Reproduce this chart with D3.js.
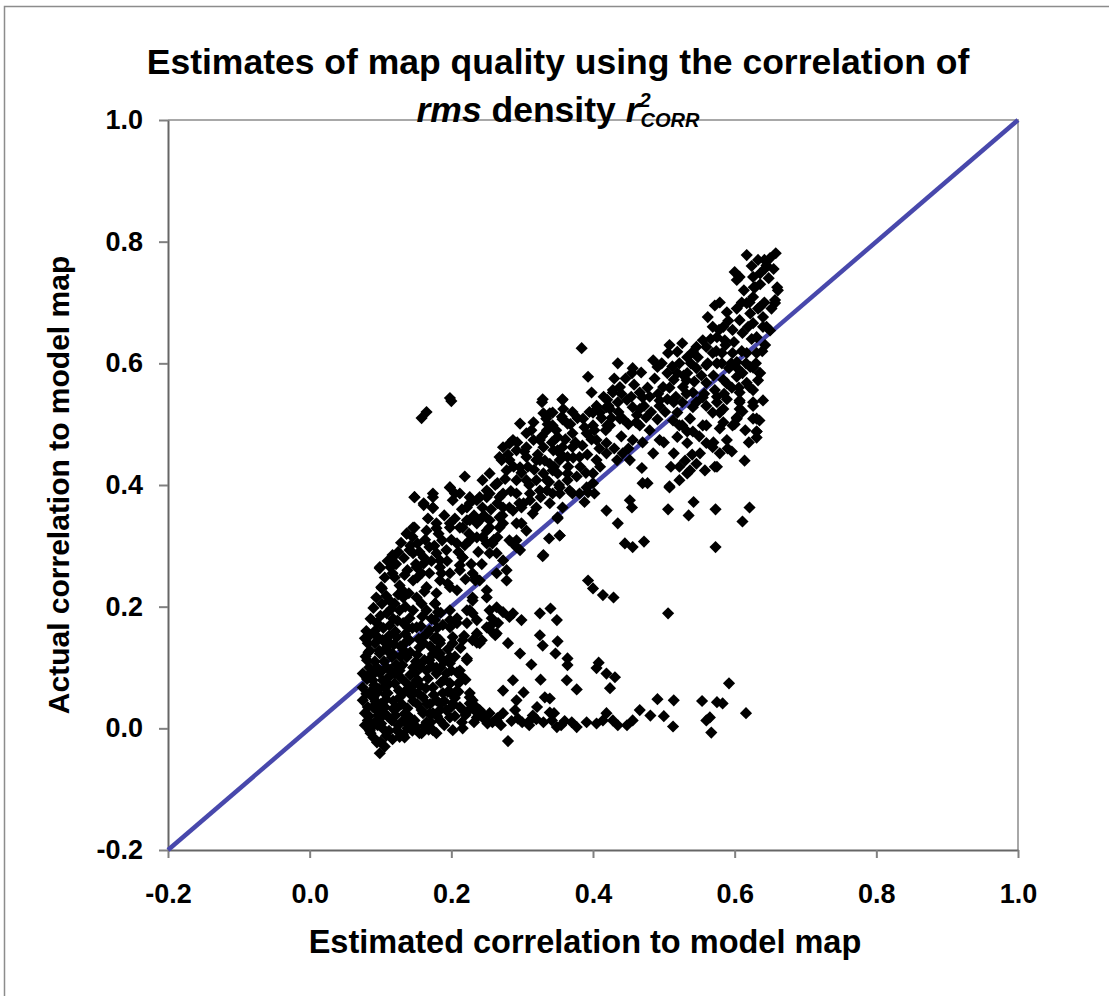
<!DOCTYPE html>
<html lang="en">
<meta charset="utf-8">
<style>
body {
  margin: 0;
  background: #fff;
  font-family: 'Liberation Sans', Arial, sans-serif;
}
.axis text {
  font-family: 'Liberation Sans', Arial, sans-serif;
  font-size: 27px;
  font-weight: bold;
  fill: #000;
}
.axis .tick line {
  stroke: #808080;
  stroke-width: 2px;
}
.axis .domain {
  stroke: #666;
  stroke-width: 2px;
}
</style>
<body>
<div id="chart"></div>

<script src="https://d3js.org/d3.v7.min.js"></script>
<script>

// tick values + labels (labels kept as plain hyphen minus like the original)
var xTicks = [-0.2, 0.0, 0.2, 0.4, 0.6, 0.8, 1.0];
var xTickLabels = ["-0.2", "0.0", "0.2", "0.4", "0.6", "0.8", "1.0"];
var yTicks = [-0.2, 0.0, 0.2, 0.4, 0.6, 0.8, 1.0];
var yTickLabels = ["-0.2", "0.0", "0.2", "0.4", "0.6", "0.8", "1.0"];

// identity line y = x
var diagonal = [[-0.2, -0.2], [1.0, 1.0]];

// [estimated, actual] pairs, read off the picture by region
var coreCluster = [
  [0.099,0.263],[0.117,0.255],[0.134,0.252],[0.151,0.265],[0.169,0.255],[0.184,0.265],[0.195,0.238],
  [0.179,0.222],[0.165,0.232],[0.146,0.243],[0.127,0.235],[0.102,0.230],[0.102,0.205],[0.113,0.210],
  [0.132,0.215],[0.151,0.215],[0.177,0.205],[0.165,0.194],[0.146,0.194],[0.127,0.194],[0.109,0.189],
  [0.095,0.173],[0.113,0.169],[0.132,0.173],[0.151,0.166],[0.169,0.161],[0.085,0.153],[0.085,0.128],
  [0.081,0.112],[0.075,0.090],[0.075,0.067],[0.075,0.046],[0.078,0.025],[0.078,0.005],[0.103,0.145],
  [0.123,0.150],[0.141,0.145],[0.155,0.133],[0.099,0.123],[0.117,0.123],[0.137,0.117],[0.095,0.100],
  [0.109,0.100],[0.127,0.095],[0.146,0.100],[0.165,0.095],[0.179,0.090],[0.089,0.079],[0.103,0.079],
  [0.120,0.074],[0.137,0.074],[0.151,0.079],[0.174,0.067],[0.095,0.058],[0.110,0.058],[0.127,0.051],
  [0.144,0.054],[0.160,0.051],[0.179,0.046],[0.089,0.035],[0.106,0.035],[0.123,0.033],[0.138,0.033],
  [0.158,0.030],[0.174,0.025],[0.099,0.016],[0.116,0.013],[0.132,0.013],[0.148,0.013],[0.165,0.010],
  [0.088,0.002],[0.103,0.000],[0.123,-0.003],[0.138,0.000],[0.155,-0.008],[0.095,-0.023],[0.099,-0.041],
  [0.132,-0.011],[0.082,0.140],[0.092,0.110],[0.086,0.060],[0.094,0.030],[0.084,0.020],[0.096,0.005],
  [0.108,-0.012],[0.112,0.085],[0.118,0.045],[0.122,0.105],[0.128,0.135],[0.134,0.060],[0.142,0.088],
  [0.138,0.022],[0.146,0.045],[0.150,0.110],[0.156,0.070],[0.104,0.165],[0.112,0.125],[0.100,0.185],
  [0.090,0.198],[0.118,0.180],[0.088,0.087],[0.098,0.092],[0.105,0.068],[0.115,0.015],[0.125,0.005],
  [0.082,0.035],[0.090,0.050],[0.100,0.040],[0.110,0.020],[0.130,0.040],[0.140,0.005],[0.105,0.110],
  [0.120,0.090],[0.135,0.155],[0.145,0.165],[0.160,0.150],[0.170,0.135],[0.160,0.025],[0.080,0.160],
  [0.092,0.140],[0.084,0.100],[0.098,0.065],[0.113,0.140],[0.128,0.118],[0.142,0.125],[0.118,0.032],
  [0.108,0.048],[0.094,0.012],[0.086,-0.008],[0.112,-0.004],[0.145,-0.004],[0.152,0.040],[0.166,0.040],
  [0.083,0.125],[0.087,0.092],[0.091,0.071],[0.093,0.044],[0.097,0.022],[0.101,0.008],[0.104,0.026],
  [0.107,0.056],[0.111,0.072],[0.114,0.096],[0.116,0.117],[0.119,0.138],[0.121,0.159],[0.124,0.177],
  [0.126,0.062],[0.129,0.083],[0.131,0.104],[0.133,0.128],[0.136,0.142],[0.139,0.165],[0.141,0.181],
  [0.143,0.064],[0.147,0.072],[0.149,0.091],[0.152,0.121],[0.154,0.147],[0.157,0.168],[0.159,0.184],
  [0.162,0.112],[0.164,0.066],[0.167,0.082],[0.169,0.024],[0.171,0.010],[0.173,0.102],[0.176,0.148],
  [0.078,0.148],[0.079,0.118],[0.081,0.081],[0.080,0.057],[0.082,0.013],[0.085,-0.004],[0.090,-0.015],
  [0.100,-0.022],[0.106,-0.030],[0.117,-0.018],[0.127,-0.014],[0.121,0.021],[0.134,0.024],[0.144,0.015],
  [0.150,0.003],[0.162,0.004],[0.168,-0.002],[0.092,0.160],[0.096,0.150],[0.098,0.128],[0.101,0.093],
  [0.108,0.132],[0.112,0.152],[0.115,0.196],[0.120,0.205],[0.125,0.220],[0.108,0.218],[0.094,0.215],
  [0.086,0.180],[0.135,0.200],[0.140,0.222],[0.158,0.205],[0.162,0.225],[0.172,0.180],[0.180,0.165],
  [0.185,0.190],[0.188,0.170],[0.174,0.122],[0.185,0.100],[0.190,0.080],[0.195,0.130],[0.205,0.118],
  [0.213,0.132],[0.218,0.152]
];

var upperBand = [
  [0.198,0.543],[0.200,0.538],[0.165,0.520],[0.158,0.510],[0.328,0.536],[0.357,0.540],[0.297,0.501],
  [0.316,0.503],[0.339,0.518],[0.356,0.512],[0.335,0.490],[0.350,0.479],[0.282,0.468],[0.316,0.474],
  [0.330,0.462],[0.344,0.457],[0.357,0.462],[0.292,0.457],[0.306,0.446],[0.271,0.441],[0.297,0.429],
  [0.320,0.441],[0.339,0.435],[0.353,0.441],[0.330,0.419],[0.350,0.419],[0.364,0.408],[0.320,0.408],
  [0.306,0.408],[0.292,0.408],[0.278,0.424],[0.254,0.419],[0.244,0.408],[0.265,0.403],[0.219,0.414],
  [0.198,0.396],[0.212,0.386],[0.226,0.380],[0.240,0.380],[0.254,0.386],[0.273,0.386],[0.292,0.386],
  [0.311,0.386],[0.335,0.391],[0.353,0.386],[0.339,0.370],[0.320,0.363],[0.302,0.370],[0.282,0.363],
  [0.265,0.370],[0.244,0.363],[0.226,0.370],[0.202,0.375],[0.174,0.380],[0.148,0.380],[0.161,0.370],
  [0.174,0.362],[0.179,0.337],[0.198,0.337],[0.212,0.330],[0.226,0.342],[0.240,0.342],[0.254,0.330],
  [0.273,0.337],[0.292,0.337],[0.306,0.325],[0.282,0.309],[0.265,0.314],[0.244,0.314],[0.226,0.309],
  [0.208,0.304],[0.187,0.309],[0.165,0.325],[0.148,0.330],[0.137,0.320],[0.152,0.304],[0.146,0.288],
  [0.161,0.281],[0.179,0.288],[0.117,0.285],[0.099,0.265],[0.216,0.281],[0.254,0.288],[0.292,0.298],
  [0.330,0.285],[0.353,0.317],[0.350,0.347],[0.357,0.363],[0.273,0.462],[0.282,0.441],[0.268,0.446],
  [0.306,0.485],[0.330,0.518],[0.364,0.501],[0.198,0.232],[0.208,0.227],[0.184,0.243],[0.230,0.215],
  [0.250,0.227],[0.234,0.243],[0.278,0.243],[0.278,0.260],[0.264,0.255],[0.273,0.276],[0.287,0.304],
  [0.297,0.293],[0.292,0.309],[0.299,0.337],[0.264,0.288],[0.258,0.304],[0.250,0.304],[0.236,0.314],
  [0.250,0.325],[0.219,0.301],[0.216,0.281],[0.212,0.260],[0.234,0.248],[0.198,0.255],[0.184,0.276],
  [0.193,0.293],[0.179,0.329],[0.198,0.330],[0.216,0.330],[0.222,0.363],[0.205,0.386],[0.198,0.396],
  [0.148,0.380],[0.161,0.367],[0.174,0.363],[0.174,0.386],[0.137,0.320],[0.146,0.330],[0.141,0.293],
  [0.117,0.281],[0.101,0.232],[0.120,0.248],[0.131,0.227],[0.152,0.248],[0.161,0.271],[0.169,0.298],
  [0.222,0.342],[0.236,0.337],[0.254,0.342],[0.268,0.347],[0.273,0.363],[0.287,0.358],[0.299,0.363],
  [0.311,0.375],[0.315,0.353],[0.325,0.391],[0.343,0.386],[0.367,0.391],[0.381,0.386],[0.400,0.403],
  [0.250,0.391],[0.268,0.380],[0.236,0.375],[0.212,0.268],[0.230,0.255],[0.240,0.243],[0.250,0.215],
  [0.230,0.210],[0.254,0.194],[0.259,0.173],[0.264,0.156],[0.236,0.156],[0.216,0.145],[0.198,0.194],
  [0.208,0.181],[0.222,0.173],[0.236,0.178],[0.226,0.194],[0.198,0.166],[0.184,0.145],[0.202,0.140],
  [0.184,0.123],[0.198,0.117],[0.169,0.112],[0.222,0.115],[0.236,0.141],[0.243,0.145],
  [0.106,0.248],[0.110,0.275],[0.114,0.265],[0.122,0.270],[0.125,0.290],[0.129,0.305],[0.133,0.280],
  [0.138,0.260],[0.142,0.300],[0.145,0.315],[0.150,0.270],[0.155,0.290],[0.158,0.255],[0.163,0.310],
  [0.167,0.345],[0.172,0.275],[0.176,0.300],[0.182,0.320],[0.186,0.255],[0.190,0.350],[0.194,0.275],
  [0.200,0.310],[0.205,0.345],[0.210,0.290],[0.215,0.360],[0.220,0.245],[0.225,0.320],[0.228,0.270],
  [0.232,0.350],[0.238,0.290],[0.243,0.270],[0.246,0.350],[0.250,0.380],[0.256,0.360],[0.260,0.310],
  [0.262,0.400],[0.268,0.330],[0.272,0.350],
  [0.276,0.410],[0.280,0.450],[0.284,0.390],[0.288,0.430],[0.293,0.470],[0.296,0.370],[0.299,0.420],
  [0.303,0.455],[0.308,0.430],[0.310,0.400],[0.313,0.490],[0.317,0.425],[0.322,0.450],[0.326,0.380],
  [0.328,0.480],[0.332,0.440],[0.336,0.500],[0.338,0.405],[0.342,0.470],[0.345,0.430],[0.348,0.490],
  [0.352,0.400],[0.355,0.450],[0.358,0.525],[0.361,0.475],[0.365,0.430],[0.368,0.500],[0.372,0.445],
  [0.375,0.470],[0.378,0.510],[0.382,0.430],[0.385,0.465],[0.388,0.495],[0.392,0.450],[0.395,0.520],
  [0.398,0.475],[0.402,0.490],[0.405,0.530],[0.409,0.460],[0.412,0.510],[0.415,0.545],[0.418,0.490]
];

var rightArm = [
  [0.658,0.781],[0.617,0.778],[0.633,0.770],[0.645,0.761],[0.600,0.750],[0.607,0.742],[0.603,0.737],
  [0.626,0.742],[0.636,0.748],[0.629,0.725],[0.660,0.725],[0.626,0.709],[0.657,0.699],[0.617,0.699],
  [0.636,0.693],[0.622,0.682],[0.640,0.676],[0.579,0.700],[0.572,0.695],[0.589,0.684],[0.562,0.676],
  [0.607,0.671],[0.626,0.666],[0.640,0.660],[0.584,0.660],[0.569,0.660],[0.597,0.655],[0.611,0.650],
  [0.575,0.643],[0.631,0.643],[0.586,0.638],[0.555,0.638],[0.560,0.627],[0.546,0.627],[0.526,0.633],
  [0.508,0.630],[0.506,0.617],[0.533,0.610],[0.541,0.619],[0.519,0.619],[0.569,0.617],[0.582,0.617],
  [0.597,0.617],[0.617,0.617],[0.631,0.617],[0.603,0.602],[0.622,0.594],[0.636,0.584],[0.611,0.584],
  [0.592,0.592],[0.575,0.600],[0.560,0.597],[0.546,0.592],[0.533,0.584],[0.519,0.584],[0.505,0.584],
  [0.491,0.594],[0.485,0.605],[0.435,0.600],[0.456,0.592],[0.455,0.584],[0.393,0.578],[0.398,0.552],
  [0.438,0.561],[0.428,0.552],[0.466,0.552],[0.480,0.545],[0.499,0.561],[0.514,0.573],[0.527,0.561],
  [0.541,0.552],[0.560,0.568],[0.572,0.556],[0.584,0.573],[0.603,0.578],[0.617,0.568],[0.626,0.556],
  [0.607,0.552],[0.589,0.541],[0.575,0.536],[0.607,0.536],[0.626,0.530],[0.631,0.509],[0.607,0.525],
  [0.603,0.511],[0.584,0.525],[0.569,0.519],[0.560,0.530],[0.546,0.536],[0.526,0.536],[0.537,0.509],
  [0.555,0.498],[0.579,0.493],[0.631,0.488],[0.533,0.488],[0.522,0.498],[0.514,0.536],[0.505,0.541],
  [0.494,0.530],[0.519,0.519],[0.466,0.525],[0.475,0.511],[0.461,0.503],[0.491,0.508],[0.448,0.540],
  [0.435,0.536],[0.420,0.540],[0.410,0.519],[0.424,0.525],[0.438,0.509],[0.420,0.498],[0.400,0.498],
  [0.386,0.509],[0.371,0.520],[0.357,0.541],[0.329,0.541],[0.343,0.519],[0.334,0.509],[0.357,0.508],
  [0.343,0.498],[0.400,0.519],[0.419,0.528],[0.428,0.556],[0.456,0.528],[0.470,0.544],[0.494,0.539],
  [0.532,0.572],[0.541,0.528],[0.513,0.506],[0.424,0.498],[0.442,0.509],[0.494,0.474],[0.466,0.498],
  [0.485,0.452],[0.456,0.474],[0.452,0.441],[0.469,0.428],[0.477,0.403],[0.442,0.452],[0.434,0.441],
  [0.419,0.452],[0.405,0.441],[0.400,0.419],[0.391,0.396],[0.419,0.469],[0.405,0.474],[0.391,0.485],
  [0.371,0.485],[0.371,0.462],[0.381,0.446],[0.364,0.446],[0.350,0.457],[0.343,0.424],[0.364,0.419],
  [0.377,0.414],[0.353,0.396],[0.371,0.386],[0.335,0.408],[0.325,0.441],[0.325,0.474],[0.306,0.462],
  [0.287,0.474],[0.508,0.396],[0.519,0.479],[0.514,0.452],[0.533,0.469],[0.526,0.498],[0.541,0.488],
  [0.560,0.498],[0.560,0.469],[0.551,0.452],[0.569,0.462],[0.579,0.452],[0.572,0.430],[0.546,0.435],
  [0.522,0.430],[0.533,0.419],[0.522,0.408],[0.537,0.424],[0.589,0.474],[0.597,0.498],[0.603,0.509],
  [0.626,0.509],[0.631,0.488],[0.611,0.521],[0.626,0.536],[0.607,0.539],[0.621,0.561],[0.635,0.584],
  [0.626,0.593],[0.603,0.593],[0.589,0.567],[0.575,0.545],[0.555,0.544],[0.579,0.519],[0.584,0.503],
  [0.631,0.478],[0.635,0.506],[0.640,0.539],[0.633,0.572],[0.643,0.630],[0.650,0.654],[0.657,0.704],
  [0.661,0.720],[0.643,0.756],[0.650,0.773],[0.614,0.440],[0.596,0.455],[0.575,0.430],[0.558,0.424],
  [0.384,0.625],
  [0.422,0.530],[0.426,0.510],[0.430,0.575],[0.436,0.520],[0.440,0.550],[0.446,0.575],[0.450,0.500],
  [0.454,0.545],[0.458,0.565],[0.462,0.515],[0.468,0.585],[0.472,0.530],[0.477,0.560],[0.482,0.520],
  [0.487,0.575],[0.492,0.550],[0.497,0.600],[0.502,0.520],[0.508,0.560],[0.512,0.595],[0.517,0.545],
  [0.522,0.600],[0.528,0.580],[0.532,0.550],[0.538,0.600],[0.543,0.570],[0.548,0.610],[0.553,0.580],
  [0.557,0.550],[0.562,0.600],[0.566,0.640],[0.570,0.580],[0.574,0.620],[0.578,0.655],[0.582,0.600],
  [0.587,0.630],[0.591,0.670],[0.595,0.600],[0.599,0.635],[0.603,0.690],[0.606,0.560],[0.610,0.620],
  [0.613,0.720],[0.616,0.600],[0.619,0.660],[0.621,0.700],[0.624,0.640],[0.627,0.725],[0.630,0.600],
  [0.633,0.690],[0.636,0.730],[0.639,0.620],[0.642,0.700],[0.645,0.660],[0.648,0.740],[0.652,0.690],
  [0.655,0.755],[0.642,0.770],[0.624,0.760],[0.610,0.700],[0.596,0.560],[0.585,0.550],[0.600,0.500],
  [0.615,0.490],[0.620,0.470],[0.590,0.460],[0.570,0.470],[0.550,0.480],[0.540,0.450],[0.530,0.440],
  [0.510,0.430],[0.500,0.470],[0.480,0.490],[0.470,0.470],[0.450,0.460],[0.440,0.480],[0.430,0.460],
  [0.410,0.430],[0.390,0.420]
];

var lowerTail = [
  [0.508,0.398],[0.542,0.372],[0.506,0.360],[0.535,0.350],[0.573,0.360],[0.621,0.363],[0.611,0.340],
  [0.573,0.298],[0.506,0.189],[0.592,0.074],[0.616,0.025],[0.491,0.048],[0.514,0.046],[0.554,0.045],
  [0.575,0.043],[0.583,0.041],[0.500,0.020],[0.513,0.003],[0.560,0.013],[0.565,0.018],[0.567,-0.007],
  [0.481,0.021],[0.466,0.030],[0.456,0.013],[0.448,0.005],[0.435,0.005],[0.419,0.025],[0.414,0.013],
  [0.405,0.008],[0.391,0.010],[0.377,0.002],[0.428,0.013],[0.445,0.304],[0.456,0.298],[0.472,0.307],
  [0.435,0.337],[0.452,0.375],[0.455,0.363],[0.470,0.403],[0.419,0.358],[0.393,0.243],[0.400,0.230],
  [0.414,0.219],[0.429,0.215],[0.388,0.372],[0.393,0.388],[0.402,0.386],[0.350,0.345],[0.353,0.317],
  [0.338,0.312],[0.329,0.283],[0.325,0.189],[0.340,0.197],[0.349,0.178],[0.325,0.153],[0.329,0.136],
  [0.350,0.143],[0.347,0.123],[0.364,0.115],[0.364,0.104],[0.363,0.079],[0.377,0.064],[0.408,0.108],
  [0.405,0.099],[0.419,0.090],[0.431,0.084],[0.424,0.066],[0.326,0.080],[0.313,0.105],[0.297,0.123],
  [0.280,0.140],[0.287,0.079],[0.273,0.062],[0.292,0.046],[0.302,0.059],[0.332,0.051],[0.339,0.049],
  [0.321,0.035],[0.339,0.026],[0.342,0.013],[0.349,0.002],[0.315,0.021],[0.311,0.013],[0.294,0.016],
  [0.280,-0.021],[0.273,0.025],[0.264,0.013],[0.251,0.008],[0.244,0.025],[0.236,0.018],[0.230,0.046],
  [0.226,0.051],[0.222,0.112],[0.208,0.092],[0.210,0.074],[0.198,0.074],[0.193,0.090],[0.198,0.107],
  [0.184,0.117],[0.179,0.100],[0.200,0.058],[0.202,0.041],[0.216,0.030],[0.184,0.030],[0.179,0.150],
  [0.184,0.140],[0.202,0.150],[0.198,0.178],[0.208,0.173],[0.230,0.189],[0.230,0.145],[0.240,0.140],
  [0.222,0.194],[0.250,0.166],[0.258,0.158],[0.257,0.181],[0.264,0.199],[0.273,0.191],[0.282,0.183],
  [0.287,0.189],[0.299,0.178],[0.266,0.173],[0.262,0.153],[0.177,0.205],[0.181,0.191],[0.177,0.178],
  [0.166,0.156],[0.168,0.112],[0.179,0.128],[0.161,0.140],[0.157,0.100],[0.153,0.079],[0.153,0.058],
  [0.158,-0.008],[0.179,-0.008],[0.134,-0.015],[0.212,0.095],[0.198,0.074],[0.208,0.062],[0.226,0.058],
  [0.188,0.058],[0.193,0.030],[0.212,0.035],[0.226,0.041],[0.184,0.013],[0.198,0.018],[0.174,-0.003],
  [0.202,-0.003],[0.216,0.000],[0.244,0.018],[0.254,0.025],[0.236,0.026],[0.190,0.005],[0.170,0.040],
  [0.200,0.035],[0.220,0.022],[0.235,0.035],[0.205,0.050],[0.215,0.010],[0.180,0.020],[0.190,0.045],
  [0.175,0.055],[0.265,0.017],[0.300,0.010],[0.320,0.015],[0.355,0.005],[0.370,0.010],
  [0.185,0.040],[0.195,0.060],[0.205,0.020],[0.210,0.060],[0.220,0.080],[0.225,0.030],[0.232,0.010],
  [0.240,0.030],[0.248,0.015],[0.258,0.010],[0.270,0.005],[0.285,0.012],[0.290,0.030],[0.310,0.005],
  [0.330,0.010],[0.345,0.025],[0.360,0.012],[0.190,0.110],[0.200,0.095],[0.215,0.085],[0.185,0.075]
];

var groups = [coreCluster, upperBand, rightArm, lowerTail];

// plot box
var width = 1109,
    height = 996;
var plotLeft = 168, plotRight = 1018, plotTop = 120, plotBottom = 850;

var x = d3.scaleLinear().domain([-0.2, 1.0]).range([plotLeft, plotRight]);
var y = d3.scaleLinear().domain([-0.2, 1.0]).range([plotBottom, plotTop]);

var svg = d3.select("#chart").append("svg")
    .attr("width", width)
    .attr("height", height);

// outer frame (runs off the right/bottom edge in the original)
svg.append("rect")
    .attr("x", 4.5).attr("y", 6.5)
    .attr("width", 1200).attr("height", 1100)
    .attr("fill", "none")
    .attr("stroke", "#8c8c8c")
    .attr("stroke-width", 1.5);

// top + right border of the plot box, lighter grey
svg.append("path")
    .attr("d", "M" + x(-0.2) + "," + y(1.0) + "H" + x(1.0) + "V" + y(-0.2))
    .attr("fill", "none")
    .attr("stroke", "#a8a8a8")
    .attr("stroke-width", 2);

// axes
var yAxis = d3.axisLeft(y)
    .tickValues(yTicks)
    .tickFormat(function(d, i) { return yTickLabels[i]; })
    .tickSize(9)
    .tickPadding(16)
    .tickSizeOuter(0);

var xAxis = d3.axisBottom(x)
    .tickValues(xTicks)
    .tickFormat(function(d, i) { return xTickLabels[i]; })
    .tickSize(8)
    .tickPadding(26)
    .tickSizeOuter(0);

svg.append("g")
    .attr("class", "axis x")
    .attr("transform", "translate(0," + plotBottom + ")")
    .call(xAxis);

svg.append("g")
    .attr("class", "axis y")
    .attr("transform", "translate(" + plotLeft + ",0)")
    .call(yAxis);

svg.selectAll(".axis .domain").attr("stroke", "#5c5c5c");

// y = x line
var line = d3.line()
    .x(function(d) { return x(d[0]); })
    .y(function(d) { return y(d[1]); });

svg.append("path")
    .datum(diagonal)
    .attr("d", line)
    .attr("fill", "none")
    .attr("stroke", "#4848ac")
    .attr("stroke-width", 4.5);

// diamond markers (square turned 45deg)
var diamond = d3.symbol().type(d3.symbolSquare).size(74);

svg.append("g")
    .attr("class", "points")
  .selectAll("path")
    .data(d3.merge(groups))
  .enter().append("path")
    .attr("d", diamond)
    .attr("transform", function(d) {
      return "translate(" + x(d[0]) + "," + y(d[1]) + ") rotate(45)";
    })
    .attr("fill", "#000");

// titles
svg.append("text")
    .attr("x", 558).attr("y", 74)
    .attr("text-anchor", "middle")
    .attr("font-weight", "bold")
    .attr("font-size", 35.5)
    .attr("fill", "#000")
    .text("Estimates of map quality using the correlation of");

var line2 = svg.append("text")
    .attr("x", 558).attr("y", 122)
    .attr("text-anchor", "middle")
    .attr("font-weight", "bold")
    .attr("font-size", 35.5)
    .attr("fill", "#000");
line2.append("tspan").attr("font-style", "italic").text("rms");
line2.append("tspan").text(" density ");
line2.append("tspan").attr("font-style", "italic").text("r");
line2.append("tspan").attr("font-style", "italic").attr("font-size", 20).attr("dy", -15).text("2");
line2.append("tspan").attr("font-style", "italic").attr("font-size", 20).attr("dx", -10).attr("dy", 20).text("CORR");

svg.append("text")
    .attr("x", 585).attr("y", 953)
    .attr("text-anchor", "middle")
    .attr("font-weight", "bold")
    .attr("font-size", 32.5)
    .text("Estimated correlation to model map");

svg.append("text")
    .attr("transform", "translate(69,485) rotate(-90)")
    .attr("text-anchor", "middle")
    .attr("font-weight", "bold")
    .attr("font-size", 30)
    .text("Actual correlation to model map");

</script>
</body>
</html>
